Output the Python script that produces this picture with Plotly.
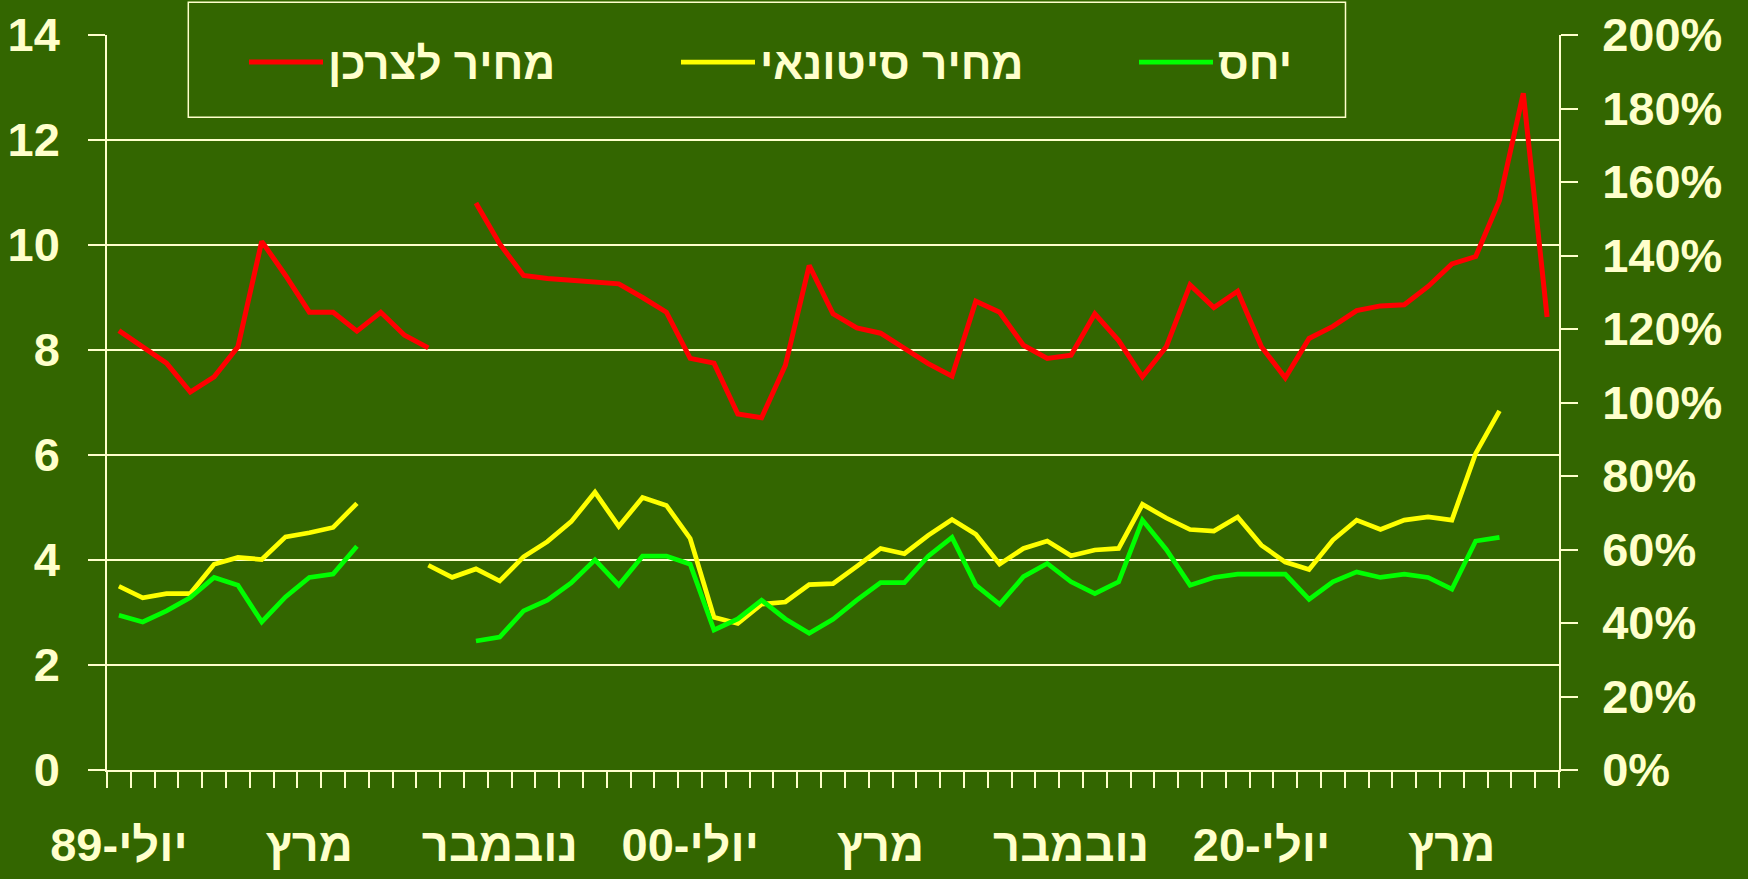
import plotly.graph_objects as go

# ---- data ----
# 61 monthly categories (Jul-98 .. Jul-03)
months = [f"{(6 + i) % 12 + 1:02d}/{(98 + (6 + i) // 12) % 100:02d}" for i in range(61)]

label_pos = [0, 8, 16, 24, 32, 40, 48, 56]
label_txt = ["יולי-89", "מרץ", "נובמבר", "יולי-00", "מרץ", "נובמבר", "יולי-20", "מרץ"]

consumer_price = [8.37, 8.06, 7.75, 7.20, 7.49, 8.06, 10.07, 9.42, 8.72, 8.72,
                  8.36, 8.72, 8.28, 8.04, None, 10.80, 10.02, 9.42, 9.36, 9.33,
                  9.29, 9.26, 9.00, 8.72, 7.84, 7.75, 6.78, 6.71, 7.71, 9.61,
                  8.69, 8.42, 8.32, 8.03, 7.74, 7.50, 8.93, 8.72, 8.09, 7.84,
                  7.90, 8.69, 8.18, 7.49, 8.06, 9.24, 8.81, 9.12, 8.06, 7.47,
                  8.22, 8.45, 8.75, 8.84, 8.86, 9.21, 9.64, 9.78, 10.85, 12.89,
                  8.63]

wholesale_price = [3.50, 3.28, 3.36, 3.36, 3.92, 4.05, 4.01, 4.44, 4.52, 4.62,
                   5.08, None, None, 3.90, 3.67, 3.83, 3.60, 4.06, 4.35, 4.73,
                   5.29, 4.64, 5.19, 5.04, 4.41, 2.91, 2.79, 3.16, 3.20, 3.53,
                   3.55, 3.88, 4.22, 4.12, 4.47, 4.77, 4.49, 3.92, 4.22, 4.36,
                   4.08, 4.19, 4.22, 5.06, 4.80, 4.58, 4.55, 4.82, 4.28, 3.96,
                   3.82, 4.38, 4.76, 4.58, 4.76, 4.82, 4.76, 6.03, 6.84, None,
                   None]

ratio_pct = [42.1, 40.3, 43.3, 46.9, 52.4, 50.3, 40.3, 47.1, 52.4, 53.3,
             60.9, None, None, None, None, 35.1, 36.2, 43.3, 46.2, 50.9,
             57.2, 50.3, 58.2, 58.2, 56.0, 38.1, 41.1, 46.2, 41.1, 37.2,
             41.0, 46.2, 51.0, 51.0, 58.2, 63.3, 50.3, 45.1, 52.6, 56.2,
             51.2, 48.0, 51.2, 68.0, 60.0, 50.3, 52.4, 53.3, 53.3, 53.3,
             46.4, 51.2, 53.9, 52.4, 53.3, 52.4, 49.2, 62.3, 63.3, None,
             None]

names = ["מחיר לצרכן", "מחיר סיטונאי", "יחס"]

# ---- style ----
BG = "#336600"
CREAM = "#FFFFCC"
FONT = "Liberation Sans, Arial, sans-serif"

ticktext = [""] * len(months)
for p, t in zip(label_pos, label_txt):
    ticktext[p] = t

fig = go.Figure()
fig.add_trace(go.Scatter(x=months, y=consumer_price, name=names[0], mode="lines",
                         line=dict(color="#FF0000", width=5), legend="legend"))
fig.add_trace(go.Scatter(x=months, y=wholesale_price, name=names[1], mode="lines",
                         line=dict(color="#FFFF00", width=4.7), legend="legend2"))
fig.add_trace(go.Scatter(x=months, y=ratio_pct, name=names[2], mode="lines", yaxis="y2",
                         line=dict(color="#00FF00", width=4.7), legend="legend3"))

W, H = 1748, 879
L, R, T, B = 107, 189, 34.5, 109
pw = W - L - R
ph = H - T - B

def px(x):
    return (x - L) / pw

def py(y):
    return (H - B - y) / ph

tickfont = dict(family=FONT, size=47, color=CREAM, weight="bold")
legfont = dict(family=FONT, size=44, color=CREAM, weight="bold")

leg_common = dict(orientation="h", xanchor="left", yanchor="middle",
                  bgcolor="rgba(0,0,0,0)", borderwidth=0, font=legfont,
                  itemwidth=74)

fig.update_layout(
    template="plotly",
    width=W, height=H,
    autosize=False,
    margin=dict(l=L, r=R, t=T, b=B, pad=0, autoexpand=False),
    paper_bgcolor=BG, plot_bgcolor=BG,
    showlegend=True,
    legend=dict(x=px(244), y=py(62), **leg_common),
    legend2=dict(x=px(676), y=py(62), **leg_common),
    legend3=dict(x=px(1134), y=py(62), **leg_common),
    xaxis=dict(type="category", tickson="boundaries", tickmode="array",
               tickvals=months, ticktext=ticktext, tickangle=0,
               ticks="outside", ticklen=16, tickwidth=1.5, tickcolor=CREAM,
               showline=True, linecolor=CREAM, linewidth=1.5,
               showgrid=False, zeroline=False, tickfont=tickfont,
               ticklabelstandoff=33, range=[-0.5, 60.5], automargin=False),
    yaxis=dict(range=[0, 14], tick0=0, dtick=2, showgrid=True, gridcolor=CREAM,
               gridwidth=1.5, ticks="outside", ticklen=17, tickwidth=1.5,
               tickcolor=CREAM, showline=True, linecolor=CREAM, linewidth=1.5,
               zeroline=False, tickfont=tickfont, ticklabelstandoff=19,
               automargin=False),
    yaxis2=dict(range=[0, 200], tick0=0, dtick=20, ticksuffix="%",
                overlaying="y", side="right", anchor="x", showgrid=False,
                ticks="outside", ticklen=17, tickwidth=1.5, tickcolor=CREAM,
                showline=True, linecolor=CREAM, linewidth=1.5, zeroline=False,
                tickfont=tickfont, ticklabelstandoff=15, automargin=False),
    yaxis3=dict(range=[0, 200], tick0=0, dtick=20, overlaying="y", side="right",
                anchor="x", showgrid=False, ticks="inside", ticklen=17,
                tickwidth=1.5, tickcolor=CREAM, showline=False,
                showticklabels=False, zeroline=False, automargin=False),
    shapes=[dict(type="rect", xref="paper", yref="paper",
                 x0=px(188.3), x1=px(1345.5), y0=py(116.7), y1=py(1.7),
                 line=dict(color=CREAM, width=1.5), fillcolor=BG, layer="above")],
)

fig.write_html("out.html",
               config={"displayModeBar": False},
               post_script="document.body.style.margin='0';document.body.style.overflow='hidden';")
